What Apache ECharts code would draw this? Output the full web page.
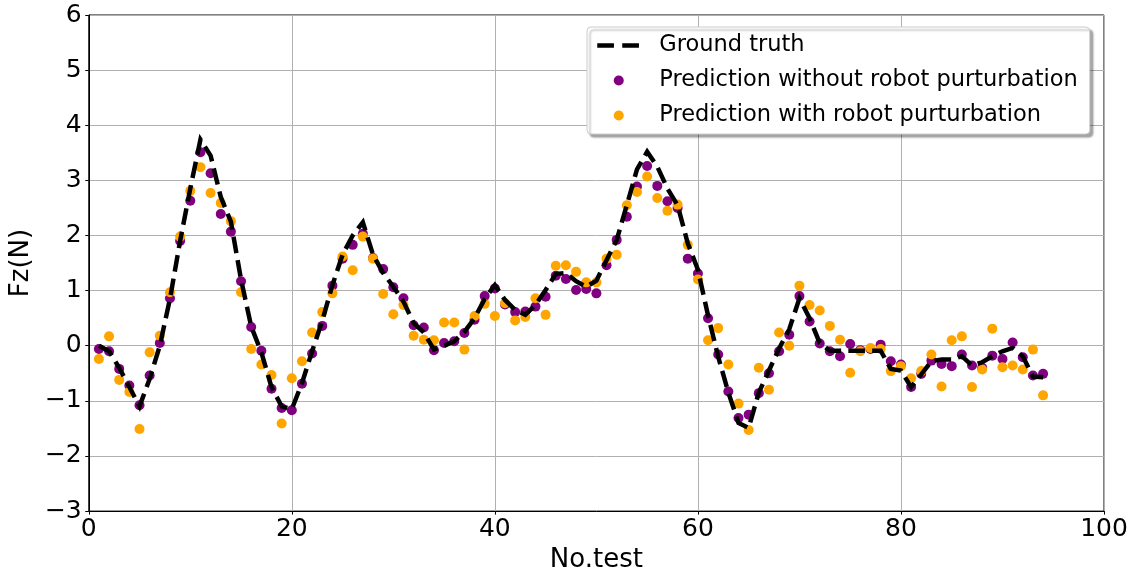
<!DOCTYPE html>
<html>
<head>
<meta charset="utf-8">
<script src="https://cdn.jsdelivr.net/npm/echarts@6/dist/echarts.min.js"></script>
<style>
  html, body { margin: 0; padding: 0; background: #fff; }
  #chart { width: 1141px; height: 578px; }
</style>
</head>
<body>
<div id="chart"></div>
<script>
// Test index (x) for each measurement
const testIndex = Array.from({ length: 94 }, (_, i) => i + 1);

// Measured vertical force Fz (N)
const groundTruth = [
  0.0, -0.1, -0.4, -0.75, -1.1, -0.6, 0.0, 0.85, 1.9, 2.85,
  3.74, 3.45, 2.7, 2.25, 1.2, 0.35, -0.12, -0.75, -1.1, -1.15,
  -0.68, -0.1, 0.45, 1.1, 1.65, 2.0, 2.24, 1.65, 1.32, 1.07,
  0.8, 0.41, 0.24, -0.07, 0.0, 0.08, 0.25, 0.5, 0.85, 1.1,
  0.83, 0.65, 0.56, 0.74, 1.01, 1.3, 1.32, 1.17, 1.07, 1.18,
  1.55, 1.92, 2.55, 3.2, 3.52, 3.25, 2.85, 2.55, 1.86, 1.38,
  0.55, -0.2, -0.85, -1.4, -1.49, -0.85, -0.45, -0.05, 0.3, 0.86,
  0.5, 0.05, -0.09, -0.09, -0.09, -0.09, -0.09, -0.09, -0.42, -0.45,
  -0.75, -0.52, -0.28, -0.25, -0.25, -0.19, -0.36, -0.3, -0.19, -0.1,
  -0.04, -0.19, -0.56, -0.57
];

// Model prediction, robot at rest
const predNoPerturb = [
  -0.06, -0.1, -0.42, -0.72, -1.08, -0.54, 0.05, 0.86, 1.9, 2.63,
  3.51, 3.13, 2.39, 2.07, 1.17, 0.34, -0.09, -0.78, -1.13, -1.17,
  -0.69, -0.14, 0.36, 1.09, 1.58, 1.83, 2.03, 1.59, 1.39, 1.06,
  0.86, 0.37, 0.33, -0.08, 0.05, 0.08, 0.23, 0.47, 0.9, 1.04,
  0.75, 0.61, 0.62, 0.71, 0.89, 1.27, 1.21, 1.01, 1.03, 0.95,
  1.46, 1.92, 2.34, 2.89, 3.26, 2.9, 2.62, 2.5, 1.58, 1.31,
  0.5, -0.16, -0.83, -1.31, -1.25, -0.86, -0.5, -0.1, 0.2, 0.9,
  0.44, 0.04, -0.1, -0.19, 0.03, -0.08, -0.06, 0.02, -0.28, -0.34,
  -0.75, -0.51, -0.27, -0.33, -0.37, -0.16, -0.36, -0.4, -0.18, -0.24,
  0.06, -0.21, -0.54, -0.51
];

// Model prediction, robot moving
const predPerturb = [
  -0.24, 0.17, -0.62, -0.84, -1.51, -0.12, 0.18, 0.97, 1.98, 2.81,
  3.24, 2.77, 2.59, 2.26, 0.97, -0.06, -0.34, -0.53, -1.41, -0.59,
  -0.28, 0.24, 0.61, 0.95, 1.62, 1.37, 1.98, 1.58, 0.94, 0.57,
  0.74, 0.18, 0.11, 0.1, 0.42, 0.42, -0.07, 0.54, 0.76, 0.54,
  0.77, 0.46, 0.52, 0.86, 0.56, 1.45, 1.46, 1.34, 1.15, 1.15,
  1.58, 1.65, 2.55, 2.79, 3.07, 2.68, 2.45, 2.56, 1.83, 1.2,
  0.1, 0.32, -0.34, -1.05, -1.53, -0.4, -0.8, 0.24, 0.0, 1.09,
  0.74, 0.64, 0.36, 0.11, -0.49, -0.1, -0.04, -0.06, -0.46, -0.37,
  -0.59, -0.46, -0.16, -0.74, 0.1, 0.17, -0.75, -0.43, 0.31, -0.39,
  -0.36, -0.43, -0.07, -0.9
];

const seriesNames = [
  'Ground truth',
  'Prediction without robot purturbation',
  'Prediction with robot purturbation'
];

const pair = (ys) => testIndex.map((x, i) => [x, ys[i]]);

const FONT = 'DejaVu Sans';
const chart = echarts.init(document.getElementById('chart'), null, { renderer: 'canvas' });

chart.setOption({
  animation: false,
  backgroundColor: '#ffffff',
  grid: {
    left: 87, right: 37, top: 15, bottom: 66,
    show: true, borderColor: '#000', borderWidth: 1, backgroundColor: 'transparent'
  },
  xAxis: {
    type: 'value', min: 0, max: 100, interval: 20,
    name: 'No.test', nameLocation: 'middle', nameGap: 31,
    nameTextStyle: { fontFamily: FONT, fontSize: 26, color: '#000' },
    axisLine: { show: true, onZero: false, lineStyle: { color: '#000', width: 1 } },
    axisTick: { show: true, length: 3.5, lineStyle: { color: '#000' } },
    axisLabel: { fontFamily: FONT, fontSize: 25, color: '#000', margin: 6 },
    splitLine: { show: true, lineStyle: { color: '#b0b0b0', width: 1 } }
  },
  yAxis: {
    type: 'value', min: -3, max: 6, interval: 1,
    name: 'Fz(N)', nameLocation: 'middle', nameGap: 46,
    nameTextStyle: { fontFamily: FONT, fontSize: 26, color: '#000' },
    axisLine: { show: true, onZero: false, lineStyle: { color: '#000', width: 1 } },
    axisTick: { show: true, length: 3.5, lineStyle: { color: '#000' } },
    axisLabel: {
      fontFamily: FONT, fontSize: 25, color: '#000', margin: 7,
      formatter: (v) => (v < 0 ? '\u2212' + Math.abs(v) : String(v))
    },
    splitLine: { show: true, lineStyle: { color: '#b0b0b0', width: 1 } }
  },
  legend: {
    orient: 'vertical',
    left: 587, top: 27,
    padding: [7, 12, 7, 8],
    itemGap: 12,
    itemWidth: 43,
    itemHeight: 10,
    backgroundColor: '#ffffff',
    borderColor: '#cccccc',
    borderWidth: 1,
    borderRadius: 4,
    shadowColor: 'rgba(0,0,0,0.35)',
    shadowBlur: 2,
    shadowOffsetX: 3,
    shadowOffsetY: 3,
    textStyle: { fontFamily: FONT, fontSize: 22.5, color: '#000', padding: [0, 0, 0, 14] },
    data: [
      {
        name: seriesNames[0],
        itemStyle: { color: 'rgba(0,0,0,0)', borderWidth: 0 },
        lineStyle: { type: [16.7, 8.3], width: 4.5, color: '#000' }
      },
      { name: seriesNames[1], icon: 'circle' },
      { name: seriesNames[2], icon: 'circle' }
    ]
  },
  series: [
    {
      name: seriesNames[1], type: 'scatter', data: pair(predNoPerturb),
      symbol: 'circle', symbolSize: 10, z: 2,
      itemStyle: { color: '#800080', opacity: 1 }
    },
    {
      name: seriesNames[2], type: 'scatter', data: pair(predPerturb),
      symbol: 'circle', symbolSize: 10, z: 3,
      itemStyle: { color: '#FFA500', opacity: 1 }
    },
    {
      name: seriesNames[0], type: 'line', data: pair(groundTruth),
      symbol: 'none', showSymbol: false, z: 4,
      lineStyle: { color: '#000', width: 4.5, type: [16.6, 7.2], cap: 'butt', join: 'miter' },
      itemStyle: { color: '#000' }
    }
  ]
});
</script>
</body>
</html>
